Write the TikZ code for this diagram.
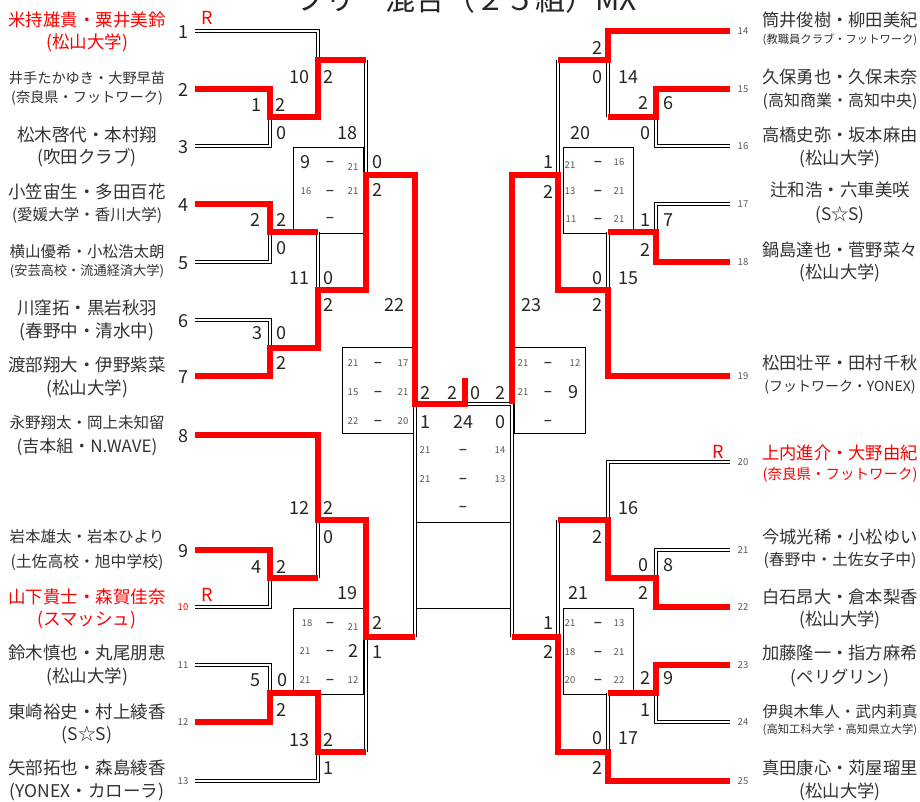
\documentclass[tikz,border=0pt]{standalone}
\usepackage{fontspec}
\setmainfont{Noto Sans CJK JP}
\newfontfamily\dashfont{DejaVu Sans}
\newcommand{\fs}[1]{\fontsize{#1}{#1}\selectfont}
\definecolor{ink}{gray}{0.2}
\definecolor{seedgray}{gray}{0.35}
\definecolor{winred}{RGB}{255,0,0}
\tikzset{
  dbl/.style={draw=black, double=white, line width=1.2pt, double distance=2.2pt},
  win/.style={draw=winred, line width=5.5pt},
  boxline/.style={draw=black, line width=0.8pt},
  sbox/.style={boxline, inner sep=0pt, minimum height=86pt},
  nm/.style={inner sep=0pt, anchor=center},
  sc/.style={inner sep=0pt, text=black!85, font=\fs{18}},
  sm/.style={inner sep=0pt, text=seedgray, font=\fs{9.5}},
  tie/.style={inner sep=0pt, anchor=base, text=black!80, font=\dashfont\bfseries\fs{11}},
  rmark/.style={inner sep=0pt, text=winred, font=\fs{18}}
}

\begin{document}
\begin{tikzpicture}[x=1pt,y=-1pt]
\useasboundingbox (0,0) rectangle (920,801);
\fill[white] (0,0) rectangle (920,801);
\clip (0,0) rectangle (920,801);

% title
\node[anchor=base, inner sep=0pt, text=black!85, font=\fs{30}] (title) at (466,10) {フリー混合（２５組）MX};

% line ends
\foreach \i/\y in {1/31,2/89,3/146,4/204,5/262,6/320,7/376,8/435,9/550,10/607,11/665,12/722,13/781}
  \coordinate (a\i) at (195,\y);
\foreach \i/\y in {14/31,15/89,16/146,17/204,18/262,19/376,20/462,21/550,22/607,23/665,24/722,25/781}
  \coordinate (a\i) at (730,\y);

% match junctions
\foreach \i/\x/\y in {1/270/117,2/270/232,3/270/348,4/270/578,5/270/693,
    6/656/117,7/656/232,8/656/578,9/656/693,
    10/318/60,11/318/290,12/318/520,13/318/752,
    14/608/60,15/608/290,16/608/520,17/608/752,
    18/366/175,19/366/637,20/558/175,21/558/637,
    22/415/404,23/512/404,24/465/404}
  \coordinate (m\i) at (\x,\y);
\coordinate (champ) at (465,378);

% score boxes
\foreach \i/\x/\y/\w in {18/328/190/70pt,19/328/651/70pt,20/598/190/70pt,21/598/651/70pt,22/377.5/390.5/71pt,23/549.5/390.5/71pt}
  \node[sbox, minimum width=\w] (b\i) at (\x,\y) {};
\draw[boxline] (417,522) -- (510,522);
\draw[boxline] (417,608) -- (510,608);

% losers
\draw[dbl] (a1) -| (m10);
\draw[dbl] (a3) -| (m1);
\draw[dbl] (a5) -| (m2);
\draw[dbl] (a6) -| (m3);
\draw[dbl] (a10) -| (m4);
\draw[dbl] (a11) -| (m5);
\draw[dbl] (a13) -| (m13);
\draw[dbl] (m10 -| m18) -- (m18);
\draw[dbl] (m2 -| m11) -- (m11);
\draw[dbl] (m4 -| m12) -- (m12);
\draw[dbl] (m13 -| m19) -- (m19);
\draw[dbl] (m19 -| m22) -- (m22) -- (m23) -- (m21 -| m23);
\draw[dbl] (a16) -| (m6);
\draw[dbl] (a17) -| (m7);
\draw[dbl] (a20) -| (m16);
\draw[dbl] (a21) -| (m8);
\draw[dbl] (a24) -| (m9);
\draw[dbl] (m6 -| m14) -- (m14);
\draw[dbl] (m14 -| m20) -- (m20);
\draw[dbl] (m7 -| m15) -- (m15);
\draw[dbl] (m16 -| m21) -- (m21);
\draw[dbl] (m9 -| m17) -- (m17);

% winners
\draw[win] (a2) -| (m1) -| (m10) -- (m10 -| m18);
\draw[win] (a4) -| (m2) -- (m2 -| m11);
\draw[win] (a7) -| (m3) -| (m11) -| (m18) -| (m22) -- (m24) -- (champ);
\draw[win] (a8) -| (m12) -| (m19) -- (m19 -| m22);
\draw[win] (a9) -| (m4) -- (m4 -| m12);
\draw[win] (a12) -| (m5) -| (m13) -- (m13 -| m19);
\draw[win] (a14) -| (m14) -- (m14 -| m20);
\draw[win] (a15) -| (m6) -- (m6 -| m14);
\draw[win] (a18) -| (m7) -- (m7 -| m15);
\draw[win] (a19) -| (m15) -| (m20) -| (m23);
\draw[win] (a22) -| (m8) -| (m16) -- (m16 -| m21);
\draw[win] (a23) -| (m9) -- (m9 -| m17);
\draw[win] (a25) -| (m17) -| (m21) -- (m21 -| m23);

% match numbers and games
\foreach \x/\y/\txt [count=\i] in {256/105/1,280/105/2,281/133/0,299/77/10,328/77/2,347/133/18,377/162/0,377/190/2,
    255/220/2,281/220/2,281/248/0,299/278/11,328/278/0,328/305/2,257/333/3,281/333/0,281/363/2,
    394/305/22,425/393/2,425/422/1,299/508/12,328/508/2,328/537/0,256/567/4,281/567/2,
    347/593/19,377/623/2,377/652/1,255/680/5,282/680/0,281/710/2,299/740/13,328/740/2,328/768/1,
    452/393/2,475/393/0,463/422/24,500/393/2,500/422/0,
    597/48/2,597/77/0,628/77/14,643/103/2,668/103/6,645/133/0,580/133/20,548/162/1,548/192/2,
    645/220/1,668/220/7,645/250/2,597/278/0,628/278/15,597/305/2,531/305/23,
    628/508/16,597/537/2,643/565/0,668/565/8,643/593/2,578/593/21,548/623/1,548/652/2,
    645/678/2,668/678/9,645/710/1,597/738/0,628/738/17,597/768/2,
    305/162/9,353/651/2,573/392/9}
  \node[sc] (lb\i) at (\x,\y) {\txt};

% points in the boxes
\foreach \x/\y/\txt [count=\i] in {353/167/21,306/191/16,353/191/21,307/623/18,353/627/21,305/651/21,305/680/21,353/680/12,
    570/165/21,619/162/16,570/191/13,619/191/21,571/219/11,619/219/21,
    570/623/21,619/623/13,570/652/18,619/652/21,570/680/20,619/680/22,
    353/363/21,403/363/17,353/392/15,403/392/21,353/421/22,403/421/20,
    523/363/21,575/363/12,523/392/21,425/450/21,500/450/14,425/479/21,500/479/13}
  \node[sm] (pt\i) at (\x,\y) {\txt};
\foreach \x/\y [count=\i] in {330/162,330/191,330/218,330/623,330/651,330/680,
    598/162,598/191,598/219,598/623,598/652,598/680,
    378/363,378/392,378/421,548/363,548/392,548/421,463/450,463/479,463/507}
  \node[tie] (dd\i) at (\x,\y+3.5) {−};

% seeds
\foreach \i/\y in {1/32,2/90,3/147,4/205,5/263,6/321,7/377,8/436,9/551}
  \node[sc] (s\i) at (183,\y) {\i};
\node[sm, text=winred] (s10) at (183,607) {10};
\foreach \i/\y in {11/665,12/722,13/781}
  \node[sm] (s\i) at (183,\y) {\i};
\foreach \i/\y in {14/31,15/89,16/146,17/204,18/262,19/376,20/462,21/550,22/607,23/665,24/722,25/781}
  \node[sm] (s\i) at (743,\y) {\i};
\node[rmark] (r1) at (207,18) {R};
\node[rmark] (r10) at (207,595) {R};
\node[rmark] (r20) at (718,452) {R};

% pairs
\foreach \i/\x/\y/\sz/\col/\txt in {
    n1/87/20/17.5/winred/米持雄貴・粟井美鈴, f1/87/43/17.5/winred/(松山大学),
    n2/87/78/14.2/ink/井手たかゆき・大野早苗, f2/87/98/14.2/ink/(奈良県・フットワーク),
    n3/87/135/17.5/ink/松木啓代・本村翔, f3/87/158/17.5/ink/(吹田クラブ),
    n4/87/192/17.5/ink/小笠宙生・多田百花, f4/87/215/15.5/ink/(愛媛大学・香川大学),
    n5/87/252/15.5/ink/横山優希・小松浩太朗, f5/87/271/13.2/ink/(安芸高校・流通経済大学),
    n6/87/308/17.5/ink/川窪拓・黒岩秋羽, f6/87/332/17.5/ink/(春野中・清水中),
    n7/87/365/17.5/ink/渡部翔大・伊野紫菜, f7/87/389/17.5/ink/(松山大学),
    n8/87/423/15.5/ink/永野翔太・岡上未知留, f8/87/447/17/ink/(吉本組・N.WAVE),
    n9/87/537/15.5/ink/岩本雄太・岩本ひより, f9/87/562/15.8/ink/(土佐高校・旭中学校),
    n10/87/597/17.5/winred/山下貴士・森賀佳奈, f10/87/620/17.5/winred/(スマッシュ),
    n11/87/653/17.5/ink/鈴木慎也・丸尾朋恵, f11/87/677/17.5/ink/(松山大学),
    n12/87/712/17.5/ink/東崎裕史・村上綾香, f12/87/735/17.5/ink/(S☆S),
    n13/87/768/17.5/ink/矢部拓也・森島綾香, f13/87/792/17.5/ink/(YONEX・カローラ),
    n14/840/20/17.3/ink/筒井俊樹・柳田美紀, f14/840/40/11.3/ink/(教職員クラブ・フットワーク),
    n15/840/77/17.3/ink/久保勇也・久保未奈, f15/840/101/16/ink/(高知商業・高知中央),
    n16/840/135/17.3/ink/高橋史弥・坂本麻由, f16/840/159/17.3/ink/(松山大学),
    n17/840/190/17.5/ink/辻和浩・六車美咲, f17/840/215/17.3/ink/(S☆S),
    n18/840/250/17.3/ink/鍋島達也・菅野菜々, f18/840/273/17.3/ink/(松山大学),
    n19/840/363/17.3/ink/松田壮平・田村千秋, f19/840/387/14/ink/(フットワーク・YONEX),
    n20/840/453/17.3/winred/上内進介・大野由紀, f20/840/475/14.5/winred/(奈良県・フットワーク),
    n21/840/537/17.3/ink/今城光稀・小松ゆい, f21/840/560/15.8/ink/(春野中・土佐女子中),
    n22/840/597/17.3/ink/白石昂大・倉本梨香, f22/840/620/17.3/ink/(松山大学),
    n23/840/653/17.3/ink/加藤隆一・指方麻希, f23/840/678/17.3/ink/(ペリグリン),
    n24/840/712/15.5/ink/伊與木隼人・武内莉真, f24/840/730/11.3/ink/(高知工科大学・高知県立大学),
    n25/840/768/17.3/ink/真田康心・苅屋瑠里, f25/840/792/17.3/ink/(松山大学)}
  \node[nm, text=\col, font=\fs{\sz}] (\i) at (\x,\y) {\txt};
\end{tikzpicture}
\end{document}
